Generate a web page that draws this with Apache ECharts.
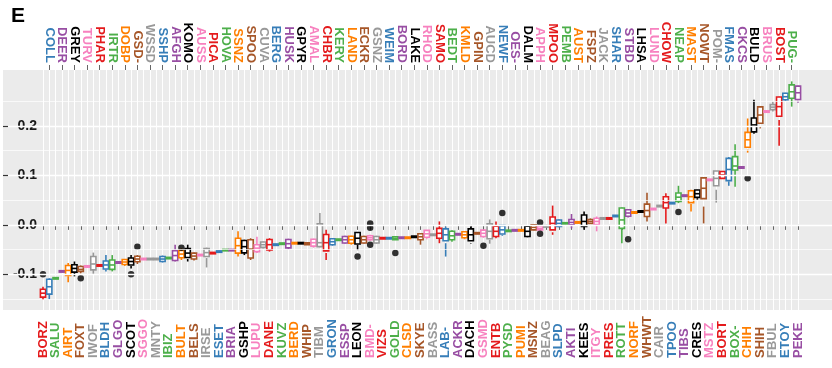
<!DOCTYPE html>
<html>
<head>
<meta charset="utf-8">
<script src="https://cdn.jsdelivr.net/npm/echarts@6/dist/echarts.min.js"></script>
<style>
  html, body { margin: 0; padding: 0; background: #fff; }
  #chart { width: 832px; height: 368px; }
</style>
</head>
<body>
<div id="chart"></div>
<script>
// breeds, ordered as on the x axis (even index -> bottom label, odd -> top label)
var breeds = ['BORZ','COLL','SALU','DEER','AIRT','GREY','FOXT','TURV','IWOF','PHAR',
  'BLDH','IRTR','GLGO','DOBP','SCOT','GSD-','SGGO','WSSD','MNTY','SSHP',
  'IBIZ','AFGH','BULT','KOMO','BELS','AUSS','IRSE','PICA','ESET','HOVA',
  'BRIA','SSNZ','GSHP','SPOO','LUPU','CUVA','DANE','BERG','KUVZ','HUSK',
  'BERD','GPYR','WHIP','AMAL','TIBM','CHBR','GRON','KERY','ESSP','LAND',
  'LEON','ECKR','BMD-','GSNZ','VIZS','WEIM','GOLD','BORD','CLSD','LAKE',
  'SKYE','RHOD','BASS','SAMO','LAB-','BEDT','ACKR','KMLD','DACH','GPIN',
  'GSMD','AUCD','ENTB','NEWF','PYSD','OES-','PUMI','DALM','MSNZ','APPH',
  'BEAG','MPOO','SLPD','PEMB','AKTI','AUST','KEES','FSPZ','ITGY','JACK',
  'PRES','SHAR','ROTT','STBD','NORF','LHSA','WHWT','LUND','CAIR','CHOW',
  'TPOO','NEAP','TIBS','MAST','CRES','NOWT','MSTZ','POM-','BORT','FMAS',
  'BOX-','CKCS','CHIH','BULD','SHIH','BRUS','FBUL','BOST','ETOY','PUG-',
  'PEKE'];

// lower whisker, first quartile, median, third quartile, upper whisker
var lows = [-0.152,-0.150,-0.108,-0.094,-0.116,-0.104,-0.098,-0.084,-0.099,-0.082,
  -0.094,-0.094,-0.076,-0.083,-0.088,-0.079,-0.069,-0.069,-0.069,-0.076,
  -0.067,-0.074,-0.071,-0.074,-0.072,-0.061,-0.086,-0.057,-0.054,-0.051,
  -0.051,-0.064,-0.061,-0.071,-0.057,-0.048,-0.054,-0.040,-0.038,-0.049,
  -0.037,-0.037,-0.040,-0.046,-0.045,-0.071,-0.042,-0.030,-0.038,-0.040,
  -0.051,-0.038,-0.032,-0.038,-0.027,-0.027,-0.030,-0.026,-0.026,-0.024,
  -0.040,-0.029,-0.020,-0.037,-0.064,-0.034,-0.019,-0.029,-0.038,-0.017,
  -0.026,-0.038,-0.027,-0.022,-0.012,-0.011,-0.011,-0.025,-0.011,-0.011,
  -0.003,-0.020,-0.005,0.003,-0.007,0.005,-0.010,0.002,-0.013,0.013,
  0.013,0.018,-0.037,0.015,0.025,0.027,0.007,0.032,0.038,0.003,
  0.044,0.044,0.059,0.027,0.051,0.003,0.091,0.045,0.093,0.079,
  0.077,0.116,0.146,0.184,0.195,0.229,0.229,0.160,0.251,0.239,
  0.247];
var q1s = [-0.146,-0.141,-0.108,-0.094,-0.104,-0.096,-0.094,-0.084,-0.091,-0.082,
  -0.090,-0.090,-0.076,-0.081,-0.083,-0.075,-0.069,-0.069,-0.069,-0.074,
  -0.067,-0.072,-0.067,-0.069,-0.069,-0.061,-0.067,-0.057,-0.054,-0.051,
  -0.051,-0.057,-0.057,-0.067,-0.054,-0.047,-0.051,-0.040,-0.038,-0.047,
  -0.037,-0.037,-0.040,-0.044,-0.044,-0.057,-0.040,-0.030,-0.037,-0.038,
  -0.040,-0.037,-0.030,-0.037,-0.027,-0.027,-0.030,-0.026,-0.026,-0.024,
  -0.030,-0.027,-0.020,-0.027,-0.037,-0.030,-0.019,-0.027,-0.037,-0.017,
  -0.024,-0.030,-0.024,-0.020,-0.012,-0.011,-0.011,-0.024,-0.010,-0.010,
  -0.003,-0.015,-0.003,0.003,0.000,0.005,-0.003,0.003,0.000,0.013,
  0.013,0.018,-0.007,0.017,0.025,0.027,0.017,0.032,0.038,0.034,
  0.044,0.047,0.059,0.042,0.054,0.037,0.091,0.071,0.094,0.088,
  0.111,0.116,0.152,0.187,0.199,0.229,0.232,0.212,0.253,0.256,
  0.251];
var medians = [-0.138,-0.125,-0.108,-0.094,-0.092,-0.088,-0.090,-0.084,-0.079,-0.082,
  -0.081,-0.081,-0.076,-0.075,-0.074,-0.069,-0.069,-0.069,-0.069,-0.069,
  -0.067,-0.062,-0.059,-0.057,-0.063,-0.061,-0.056,-0.057,-0.054,-0.051,
  -0.051,-0.042,-0.044,-0.049,-0.047,-0.040,-0.040,-0.040,-0.038,-0.038,
  -0.037,-0.037,-0.038,-0.036,-0.036,-0.036,-0.034,-0.030,-0.030,-0.030,
  -0.027,-0.030,-0.026,-0.030,-0.027,-0.027,-0.027,-0.026,-0.026,-0.024,
  -0.024,-0.018,-0.020,-0.017,-0.020,-0.022,-0.019,-0.020,-0.020,-0.017,
  -0.017,-0.013,-0.013,-0.010,-0.012,-0.011,-0.011,-0.013,-0.005,-0.007,
  -0.003,0.003,0.003,0.003,0.005,0.005,0.007,0.007,0.007,0.013,
  0.013,0.018,0.010,0.024,0.025,0.027,0.029,0.032,0.038,0.045,
  0.044,0.056,0.059,0.057,0.063,0.074,0.091,0.094,0.101,0.112,
  0.119,0.116,0.172,0.202,0.222,0.229,0.238,0.239,0.259,0.269,
  0.267];
var q3s = [-0.130,-0.111,-0.108,-0.094,-0.084,-0.081,-0.084,-0.084,-0.064,-0.082,
  -0.074,-0.071,-0.076,-0.071,-0.069,-0.064,-0.069,-0.069,-0.069,-0.064,
  -0.067,-0.052,-0.052,-0.051,-0.057,-0.061,-0.051,-0.057,-0.054,-0.051,
  -0.051,-0.027,-0.032,-0.030,-0.040,-0.036,-0.030,-0.040,-0.038,-0.030,
  -0.037,-0.037,-0.036,-0.030,0.002,-0.024,-0.028,-0.030,-0.024,-0.024,
  -0.017,-0.024,-0.022,-0.024,-0.027,-0.027,-0.024,-0.026,-0.026,-0.024,
  -0.018,-0.013,-0.020,-0.007,-0.013,-0.013,-0.019,-0.015,-0.013,-0.017,
  -0.011,0.000,-0.003,-0.003,-0.012,-0.011,-0.011,-0.003,0.000,-0.002,
  -0.003,0.011,0.010,0.003,0.011,0.005,0.020,0.011,0.013,0.013,
  0.013,0.018,0.034,0.030,0.025,0.027,0.042,0.032,0.038,0.057,
  0.044,0.064,0.059,0.066,0.069,0.079,0.091,0.101,0.108,0.133,
  0.138,0.116,0.182,0.215,0.232,0.229,0.242,0.251,0.266,0.283,
  0.278];
var highs = [-0.125,-0.108,-0.108,-0.094,-0.077,-0.074,-0.082,-0.084,-0.056,-0.082,
  -0.061,-0.061,-0.076,-0.069,-0.061,-0.061,-0.069,-0.069,-0.069,-0.062,
  -0.067,-0.040,-0.047,-0.040,-0.056,-0.061,-0.046,-0.057,-0.054,-0.051,
  -0.051,-0.013,-0.030,-0.027,-0.024,-0.034,-0.027,-0.040,-0.038,-0.028,
  -0.037,-0.037,-0.036,-0.028,0.024,-0.010,-0.027,-0.030,-0.022,-0.022,
  -0.015,-0.022,-0.020,-0.022,-0.027,-0.027,-0.024,-0.026,-0.026,-0.024,
  -0.017,-0.011,-0.020,0.007,-0.003,-0.011,-0.019,-0.014,-0.003,-0.017,
  -0.010,0.011,0.007,-0.001,-0.012,-0.011,-0.011,-0.002,0.001,-0.001,
  -0.003,0.039,0.011,0.003,0.022,0.005,0.027,0.013,0.017,0.013,
  0.013,0.018,0.035,0.032,0.025,0.027,0.065,0.032,0.038,0.064,
  0.044,0.079,0.059,0.071,0.071,0.081,0.091,0.104,0.109,0.137,
  0.163,0.116,0.215,0.253,0.239,0.229,0.249,0.259,0.267,0.290,
  0.281];

// outlying points
var outlierBreeds = ['BORZ','FOXT','SCOT','GSD-','BULT','LEON','BMD-','BMD-','BMD-','GOLD',
  'GSMD','NEWF','APPH','APPH','STBD','NEAP','CHIH'];
var outlierValues = [-0.100,-0.108,-0.100,-0.044,-0.046,-0.064,0.003,-0.006,-0.040,-0.057,
  -0.042,0.024,0.005,-0.018,-0.029,0.026,0.094];

var yTicks = [-0.1, 0, 0.1, 0.2];
var gridMajor = [-0.1, 0, 0.1, 0.2];
var gridMinor = [-0.15, -0.05, 0.05, 0.15, 0.25];
var yMin = -0.172, yMax = 0.313;

var FONT = '"Liberation Sans", Arial, sans-serif';
var palette = ['#E41A1C', '#377EB8', '#4DAF4A', '#984EA3', '#FF7F00', '#000000', '#A65628', '#F781BF', '#999999'];
var colorOf = {}, indexOf = {};
breeds.forEach(function (b, i) {
  colorOf[b] = b === 'MNTY' ? '#999999' : palette[i % 9];
  indexOf[b] = i;
});

var boxData = breeds.map(function (b, i) {
  return [i, lows[i], q1s[i], medians[i], q3s[i], highs[i]];
});
var outlierData = outlierBreeds.map(function (b, k) { return [b, outlierValues[k]]; });

// every label is laid out, the ones belonging to the other side are blank
function catLabel(parity, margin, align) {
  var lab = {
    interval: 0,
    rotate: 90,
    verticalAlign: 'middle',
    margin: margin,
    fontFamily: FONT,
    fontWeight: 'bold',
    fontSize: 13,
    formatter: function (v) { return indexOf[v] % 2 === parity ? v : ''; },
    color: function (v) { return colorOf[v] || '#000'; }
  };
  if (align) lab.align = align;
  return lab;
}
function catTick(parity) {
  return {
    show: true,
    interval: function (i) { return i % 2 === parity; },
    length: 5,
    lineStyle: { color: '#666', width: 1 }
  };
}

var chart = echarts.init(document.getElementById('chart'), null, { renderer: 'canvas' });

chart.setOption({
  animation: false,
  title: {
    text: 'E', left: 6, top: 1,
    textStyle: { fontFamily: FONT, fontWeight: 'bold', fontSize: 21, color: '#000' }
  },
  grid: [
    { left: 3, right: 0, top: 70, bottom: 58, show: true, backgroundColor: '#EBEBEB', borderWidth: 0 },
    { left: 43, right: 34, top: 70, bottom: 58 }
  ],
  xAxis: [
    { type: 'value', gridIndex: 0, min: 0, max: 1, show: false },
    {
      type: 'category', gridIndex: 1, position: 'bottom', data: breeds, boundaryGap: false,
      axisLine: { show: false },
      axisTick: catTick(0),
      axisLabel: catLabel(0, 48, 'left'),
      splitLine: { show: true, interval: 0, lineStyle: { color: '#FFFFFF', width: 1 } }
    },
    {
      type: 'category', gridIndex: 1, position: 'top', data: breeds, boundaryGap: false,
      axisLine: { show: false },
      axisTick: catTick(1),
      axisLabel: catLabel(1, 7, null),
      splitLine: { show: false }
    }
  ],
  yAxis: [
    {
      type: 'value', gridIndex: 0, min: yMin, max: yMax, z: 5,
      axisLine: { show: false },
      axisLabel: { show: false },
      axisTick: { show: true, inside: true, length: 5, customValues: yTicks, lineStyle: { color: '#333', width: 1.2 } },
      splitLine: { show: false }
    },
    {
      type: 'value', gridIndex: 1, min: yMin, max: yMax,
      axisLine: { show: false },
      axisTick: { show: false },
      splitLine: { show: false },
      axisLabel: {
        customValues: yTicks,
        margin: 6,
        fontFamily: FONT, fontWeight: 'bold', fontSize: 14, color: '#1a1a1a',
        formatter: function (v) { return v.toFixed(1); }
      }
    }
  ],
  series: [
    {
      type: 'line', xAxisIndex: 0, yAxisIndex: 0, data: [], silent: true, z: 1,
      markLine: {
        silent: true, symbol: ['none', 'none'], label: { show: false },
        data: gridMajor.map(function (v) {
          return { yAxis: v, lineStyle: { color: '#FFFFFF', width: 1.4, type: 'solid' } };
        }).concat(gridMinor.map(function (v) {
          return { yAxis: v, lineStyle: { color: '#FFFFFF', width: 0.7, type: 'solid' } };
        }))
      }
    },
    {
      type: 'custom', xAxisIndex: 1, yAxisIndex: 1, data: boxData, clip: false, z: 3,
      encode: { x: 0, y: [1, 2, 3, 4, 5] },
      renderItem: function (params, api) {
        var i = api.value(0);
        var pLow = api.coord([i, api.value(1)]);
        var pQ1 = api.coord([i, api.value(2)]);
        var pMed = api.coord([i, api.value(3)]);
        var pQ3 = api.coord([i, api.value(4)]);
        var pHigh = api.coord([i, api.value(5)]);
        var x = pMed[0], half = 2.6;
        var color = colorOf[breeds[i]];
        var h = Math.max(pQ1[1] - pQ3[1], 1.4);
        var top = Math.min(pQ3[1], pMed[1] - h / 2);
        var st = { stroke: color, lineWidth: 1.6, fill: null };
        return {
          type: 'group',
          children: [
            { type: 'line', shape: { x1: x, y1: pHigh[1], x2: x, y2: pQ3[1] }, style: st },
            { type: 'line', shape: { x1: x, y1: pQ1[1], x2: x, y2: pLow[1] }, style: st },
            { type: 'rect', shape: { x: x - half, y: top, width: half * 2, height: h },
              style: { stroke: color, lineWidth: 1.6, fill: '#FFFFFF' } },
            { type: 'line', shape: { x1: x - half, y1: pMed[1], x2: x + half, y2: pMed[1] }, style: st }
          ]
        };
      }
    },
    {
      type: 'scatter', xAxisIndex: 1, yAxisIndex: 1, data: outlierData, z: 4,
      symbol: 'circle', symbolSize: 6.5, itemStyle: { color: '#000000' }
    }
  ]
});
</script>
</body>
</html>
